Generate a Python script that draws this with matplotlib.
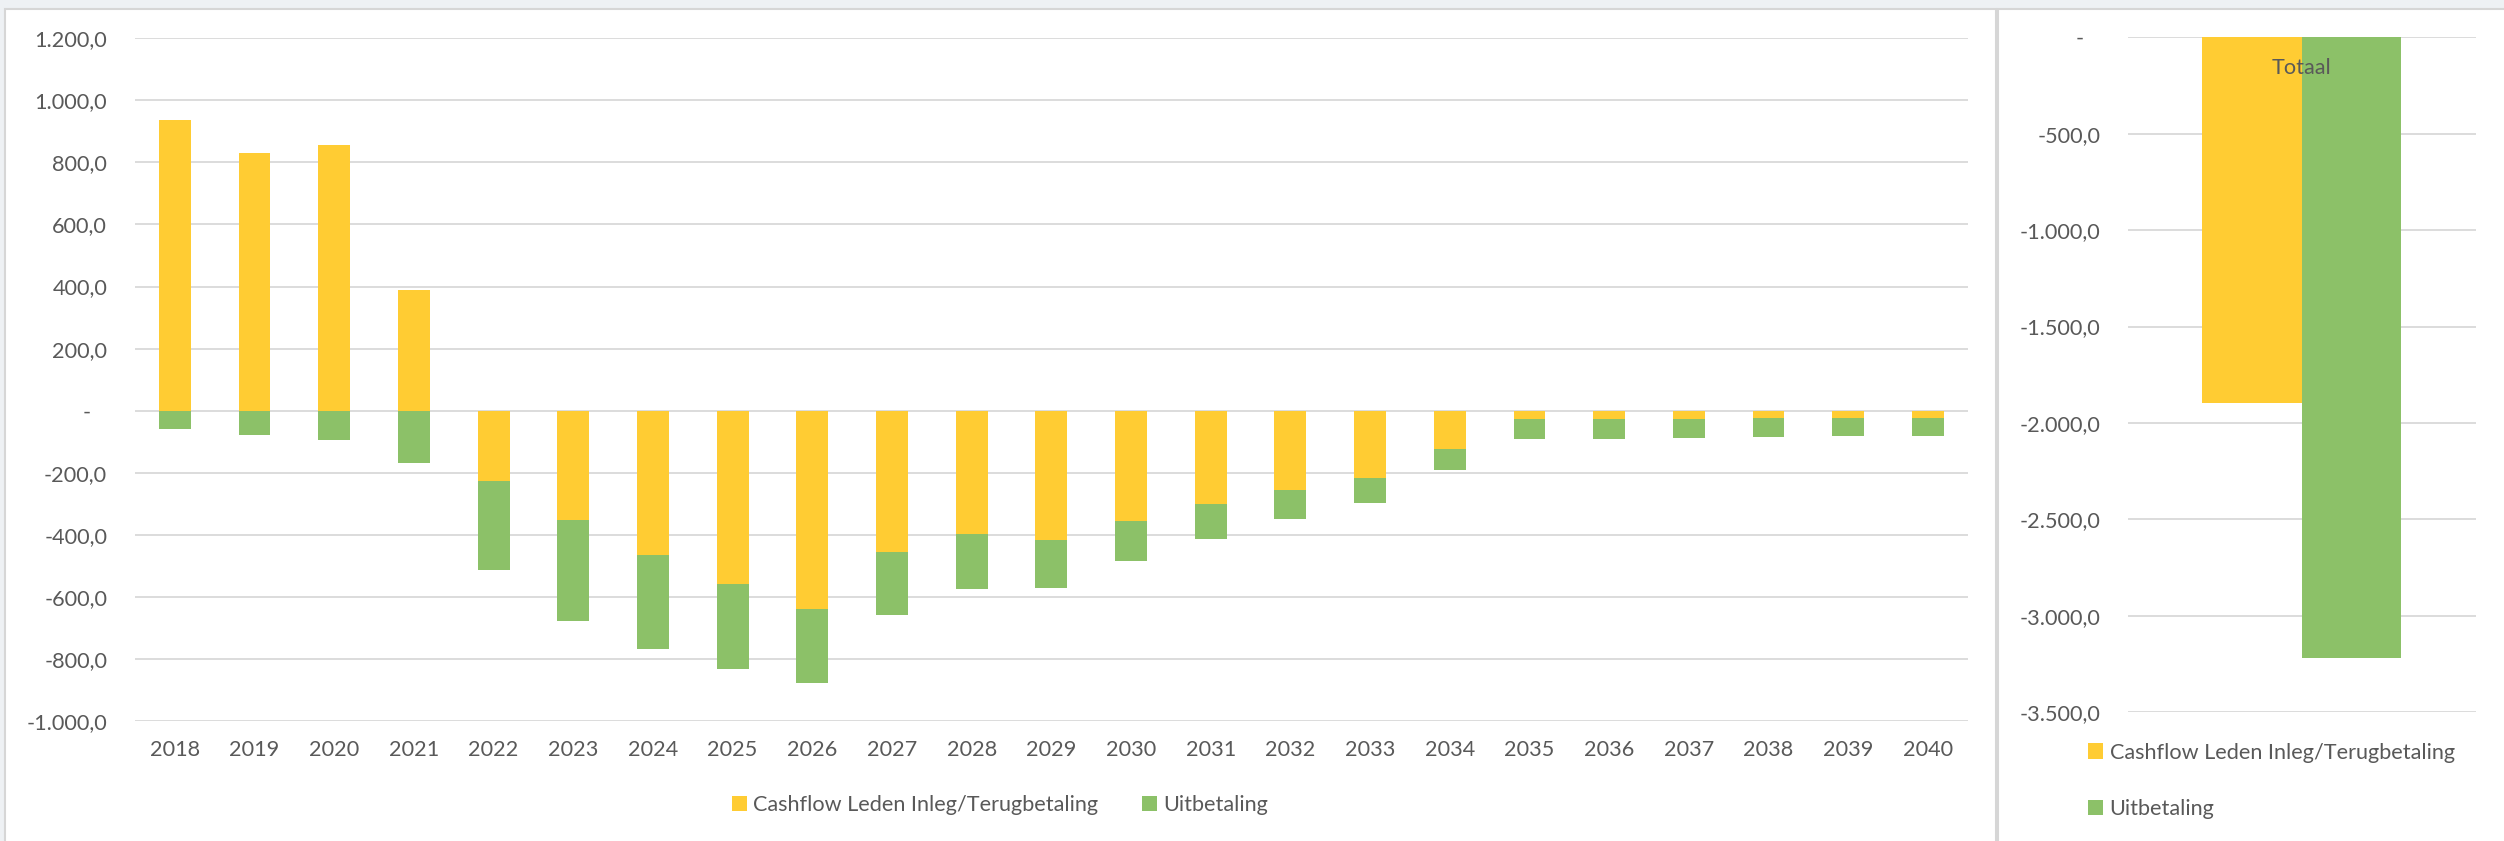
import numpy as np
import matplotlib
matplotlib.use("Agg")
import matplotlib.pyplot as plt
from matplotlib.patches import Rectangle
from matplotlib.ticker import FuncFormatter

plt.rcParams['font.family'] = ['Lato', 'DejaVu Sans']

# data (x 1.000)
years = [str(y) for y in range(2018, 2041)]
cashflow = [937, 831, 855, 389, -226, -352, -466, -558, -640, -454, -397, -417,
            -354, -301, -255, -216, -123, -26, -26, -26, -24, -24, -23]
uitbetaling = [-58, -77, -93, -168, -287, -326, -302, -273, -238, -203, -178, -154,
               -130, -111, -94, -81, -69, -66, -64, -62, -61, -59, -58]
totaal_cat = ['Totaal']
totaal_cashflow = [-1896]
totaal_uitbetaling = [-3219]
series_names = ['Cashflow Leden Inleg/Terugbetaling', 'Uitbetaling']

YELLOW = '#FFCC33'
GREEN = '#8CC168'
TXT = '#595959'
GRID = '#D9D9D9'
W, H = 2504, 841
FS = 15.6


def nl_fmt(v, pos):
    # excel accounting style: 1.200,0 and a dash for zero
    if abs(v) < 1e-9:
        return '-   '
    s = f"{v:,.1f}"
    return s.replace(',', 'X').replace('.', ',').replace('X', '.')


def style_axis(ax):
    ax.set_facecolor('none')
    for sp in ax.spines.values():
        sp.set_visible(False)
    ax.grid(axis='y', color=GRID, lw=1.3)
    ax.set_axisbelow(True)
    ax.yaxis.set_major_formatter(FuncFormatter(nl_fmt))
    ax.tick_params(axis='y', length=0, labelsize=FS, colors=TXT, pad=20)
    ax.tick_params(axis='x', length=0, labelsize=FS, colors=TXT, pad=14)


fig = plt.figure(figsize=(W / 100, H / 100), dpi=100)
fig.patch.set_facecolor('#EEF1F4')

# the two white chart panels
fig.add_artist(Rectangle((5 / W, -0.01), (1996 - 5) / W, (841 - 9) / H + 0.01,
                         transform=fig.transFigure, facecolor='white',
                         edgecolor='#D6D6D6', lw=1.5, zorder=-2))
fig.add_artist(Rectangle((1998 / W, -0.01), (2510 - 1998) / W, (841 - 9) / H + 0.01,
                         transform=fig.transFigure, facecolor='white',
                         edgecolor='#D6D6D6', lw=1.5, zorder=-2))

# left chart: per year, stacked
ax1 = fig.add_axes([135 / W, (H - 721) / H, 1832.7 / W, (721 - 38.3) / H])
x = np.arange(len(years))
cf = np.array(cashflow)
ub = np.array(uitbetaling)
b1 = ax1.bar(x, cf, width=0.4, color=YELLOW, label=series_names[0])
b2 = ax1.bar(x, ub, width=0.4, bottom=np.minimum(cf, 0), color=GREEN,
             label=series_names[1])
ax1.set_xlim(-0.5, len(years) - 0.5)
ax1.set_ylim(-1000, 1200)
ax1.set_yticks(np.arange(-1000, 1201, 200))
ax1.set_xticks(x)
ax1.set_xticklabels(years)
style_axis(ax1)

# right chart: totals
ax2 = fig.add_axes([2128 / W, (H - 712.2) / H, 347.7 / W, (712.2 - 37.3) / H])
xt = np.arange(len(totaal_cat))
bw = 0.286
ax2.bar(xt - bw / 2, totaal_cashflow, width=bw, color=YELLOW)
ax2.bar(xt + bw / 2, totaal_uitbetaling, width=bw, color=GREEN)
ax2.set_xlim(-0.5, 0.5)
ax2.set_ylim(-3500, 0)
ax2.set_yticks(np.arange(-3500, 1, 500))
ax2.set_xticks([])
style_axis(ax2)
for i, name in enumerate(totaal_cat):
    ax2.text(xt[i], 1 - 31 / 675, name, transform=ax2.get_xaxis_transform(),
             ha='center', va='center', fontsize=FS, color=TXT)

fig.legend(handles=[b1, b2], loc='center', bbox_to_anchor=(1000 / W, 1 - 805 / H),
           ncol=2, frameon=False, fontsize=FS, handlelength=0.7, handleheight=0.7,
           handletextpad=0.3, columnspacing=2.0, labelcolor=TXT,
           borderpad=0, borderaxespad=0)
fig.legend(handles=[b1, b2], loc='center left', bbox_to_anchor=(2088 / W, 1 - 781 / H),
           ncol=1, frameon=False, fontsize=FS, handlelength=0.7, handleheight=0.7,
           handletextpad=0.3, labelspacing=1.7, labelcolor=TXT,
           borderpad=0, borderaxespad=0)

fig.savefig('out.png', dpi=100, facecolor=fig.get_facecolor())
